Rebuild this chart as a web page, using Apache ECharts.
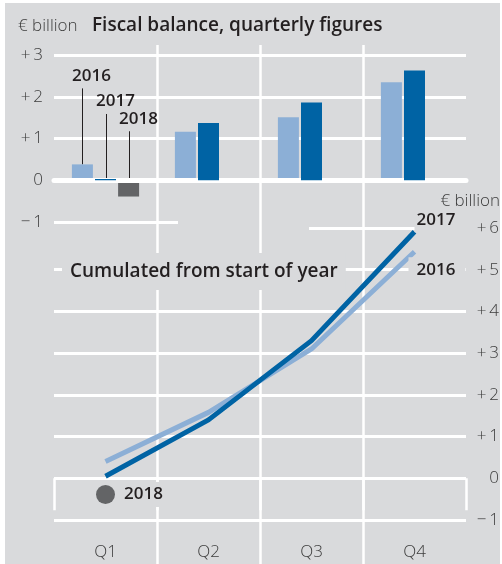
<!DOCTYPE html>
<html><head><meta charset="utf-8">
<script src="https://cdn.jsdelivr.net/npm/echarts@6/dist/echarts.min.js"></script>
<style>
html,body{margin:0;padding:0;background:#fff;}
#bg{position:absolute;left:5px;top:3px;width:495px;height:561px;background:#d9dadc;}
#chart{position:absolute;left:0;top:0;width:502px;height:564px;}
</style></head><body><div id="bg"></div><div id="chart"></div>
<script>
// ---- data ----
const categories = ['Q1', 'Q2', 'Q3', 'Q4'];
const seriesNames = ['2016', '2017', '2018'];
const quarterly2016 = [0.38, 1.16, 1.51, 2.35];
const quarterly2017 = [0.03, 1.37, 1.86, 2.63];
const quarterly2018 = [-0.39, null, null, null];
const cumulated2016 = [0.40, 1.58, 3.10, 5.43];
const cumulated2017 = [0.05, 1.40, 3.30, 5.91];
const cumulated2018 = [-0.39, null, null, null];
const topTickValues = [-1, 0, 1, 2, 3];
const topTickLabels = ['\u2212\u20091', '0', '+\u20091', '+\u20092', '+\u20093'];
const bottomTickValues = [-1, 0, 1, 2, 3, 4, 5, 6];
const bottomTickLabels = ['\u2212\u20091', '0', '+\u20091', '+\u20092', '+\u20093', '+\u20094', '+\u20095', '+\u20096'];

// ---- style ----
const FONT = '"Open Sans", "Noto Sans", sans-serif';
const BG = '#d9dadc';
const C16 = '#8cafd6', C17 = '#0063a4', C18 = '#636466';
const TXT = '#231f20', AXC = '#3c3c3c';
const BAR_W = 21, BAR_GAP = 0.1;
const leaderLen = [76, 65, 49];

function fmt(values, labels) {
  return function (v) { const i = values.indexOf(Math.round(v)); return i >= 0 ? labels[i] : ''; };
}

const chart = echarts.init(document.getElementById('chart'), null, {renderer: 'canvas'});
const leaderData = [
  [0, quarterly2016[0], 0],
  [0, quarterly2017[0], 1],
  [0, quarterly2018[0], 2]
];

const axisLabelStyle = {color: AXC, fontSize: 17, fontWeight: 300, fontFamily: FONT};
const yearLabelStyle = {color: TXT, fontSize: 17, fontWeight: 600, fontFamily: FONT};

const option = {
  animation: false,
  backgroundColor: 'transparent',
  textStyle: {fontFamily: FONT},
  title: [
    {text: '\u20ac billion', left: 18, top: 16, padding: 0,
     textStyle: {fontSize: 17, fontWeight: 300, color: AXC, lineHeight: 20, fontFamily: FONT}},
    {text: 'Fiscal balance, quarterly figures', left: 92, top: 15, padding: 0,
     textStyle: {fontSize: 19, fontWeight: 600, color: TXT, lineHeight: 22, fontFamily: FONT}},
    {text: 'Cumulated from start of year', left: 62, top: 253, padding: [8, 8, 8, 8],
     backgroundColor: BG,
     textStyle: {fontSize: 19, fontWeight: 600, color: TXT, lineHeight: 21, fontFamily: FONT}},
    {text: '\u20ac billion', right: 2, top: 191, padding: 0,
     textStyle: {fontSize: 17, fontWeight: 300, color: AXC, lineHeight: 20, fontFamily: FONT}}
  ],
  grid: [
    {left: 54, right: 36, top: 55, height: 167, outerBoundsMode: 'none'},
    {left: 54, right: 36, top: 228, height: 292, outerBoundsMode: 'none'},
    {left: 157, right: 139, top: 45, bottom: 0, outerBoundsMode: 'none'}
  ],
  xAxis: [
    {gridIndex: 0, type: 'category', data: categories, z: 3,
     axisLine: {show: true, onZero: true, lineStyle: {color: '#fff', width: 5}},
     axisTick: {show: false}, axisLabel: {show: false}, splitLine: {show: false}},
    {gridIndex: 1, type: 'category', data: categories, offset: 12,
     axisLine: {show: false},
     axisTick: {show: true, length: 32, lineStyle: {color: '#fff', width: 2.5}},
     axisLabel: Object.assign({margin: 12}, axisLabelStyle), splitLine: {show: false}},
    {gridIndex: 2, type: 'value', min: 1, max: 3, interval: 1, z: 2,
     axisLine: {show: false}, axisTick: {show: false}, axisLabel: {show: false},
     splitLine: {show: true, lineStyle: {color: '#fff', width: 2.5}}}
  ],
  yAxis: [
    {gridIndex: 0, type: 'value', min: -1, max: 3, interval: 1, position: 'left',
     axisLine: {show: false}, axisTick: {show: false},
     axisLabel: Object.assign({margin: 11, formatter: fmt(topTickValues, topTickLabels)}, axisLabelStyle),
     splitLine: {show: true, lineStyle: {color: '#fff', width: 3}}},
    {gridIndex: 1, type: 'value', min: -1, max: 6, interval: 1, position: 'right',
     axisLine: {show: false}, axisTick: {show: false},
     axisLabel: Object.assign({margin: 33, align: 'right', formatter: fmt(bottomTickValues, bottomTickLabels)}, axisLabelStyle),
     splitLine: {show: true, lineStyle: {color: '#fff', width: 3}}},
    {gridIndex: 2, type: 'value', show: false}
  ],
  graphic: [
    {type: 'rect', z: 1, shape: {x: 178, y: 219, width: 292, height: 6}, style: {fill: BG}, silent: true},
    {type: 'rect', z: 1, shape: {x: 50, y: 225.5, width: 259, height: 6}, style: {fill: BG}, silent: true}
  ],
  series: [
    {type: 'bar', name: '2016', xAxisIndex: 0, yAxisIndex: 0, data: quarterly2016,
     barWidth: BAR_W, barGap: (BAR_GAP * 100) + '%', itemStyle: {color: C16}, z: 2},
    {type: 'bar', name: '2017', xAxisIndex: 0, yAxisIndex: 0, data: quarterly2017,
     barWidth: BAR_W, barGap: (BAR_GAP * 100) + '%', itemStyle: {color: C17}, z: 4},
    {type: 'bar', name: '2018', xAxisIndex: 0, yAxisIndex: 0, data: quarterly2018,
     barWidth: BAR_W, barGap: (BAR_GAP * 100) + '%', itemStyle: {color: C18}, z: 2},
    {type: 'custom', xAxisIndex: 0, yAxisIndex: 0, data: leaderData, z: 2, silent: true,
     renderItem: function (params, api) {
       const ci = api.value(0), v = api.value(1), slot = api.value(2);
       const base = api.coord([ci, Math.max(v, 0)]);
       const x = Math.round(base[0] + (slot - 1) * BAR_W * (1 + BAR_GAP)) + 0.5;
       const y0 = base[1], y1 = y0 - leaderLen[slot];
       return {type: 'group', children: [
         {type: 'line', shape: {x1: x, y1: y0, x2: x, y2: y1}, style: {stroke: TXT, lineWidth: 1}},
         {type: 'text', x: x - BAR_W / 2, y: y1 - 4,
          style: Object.assign({text: seriesNames[slot], fill: TXT, align: 'left', verticalAlign: 'bottom'},
                               {fontSize: 17, fontWeight: 600, fontFamily: FONT})}
       ]};
     }},
    {type: 'line', name: '2016 cumulated', xAxisIndex: 1, yAxisIndex: 1, data: cumulated2016,
     symbol: 'none', lineStyle: {color: C16, width: 5, cap: 'butt'}, z: 5,
     endLabel: Object.assign({show: true, formatter: '2016', distance: 0, offset: [-6, 18], padding: [4, 10, 4, 8],
       backgroundColor: BG}, yearLabelStyle)},
    {type: 'line', name: '2017 cumulated', xAxisIndex: 1, yAxisIndex: 1, data: cumulated2017,
     symbol: 'none', lineStyle: {color: C17, width: 5, cap: 'butt'}, z: 6,
     endLabel: Object.assign({show: true, formatter: '2017', distance: 0, offset: [0, -12], padding: [4, 12, 4, 2],
       backgroundColor: BG}, yearLabelStyle)},
    {type: 'line', name: '2018 cumulated', xAxisIndex: 1, yAxisIndex: 1, data: cumulated2018,
     symbol: 'circle', symbolSize: 19, showSymbol: true, showAllSymbol: true,
     itemStyle: {color: C18}, lineStyle: {width: 0, opacity: 0}, z: 6,
     label: Object.assign({show: true, position: 'right', distance: 5, formatter: '2018', padding: [4, 4, 4, 4],
       backgroundColor: BG}, yearLabelStyle)}
  ]
};
chart.setOption(option);
</script>
</body></html>
